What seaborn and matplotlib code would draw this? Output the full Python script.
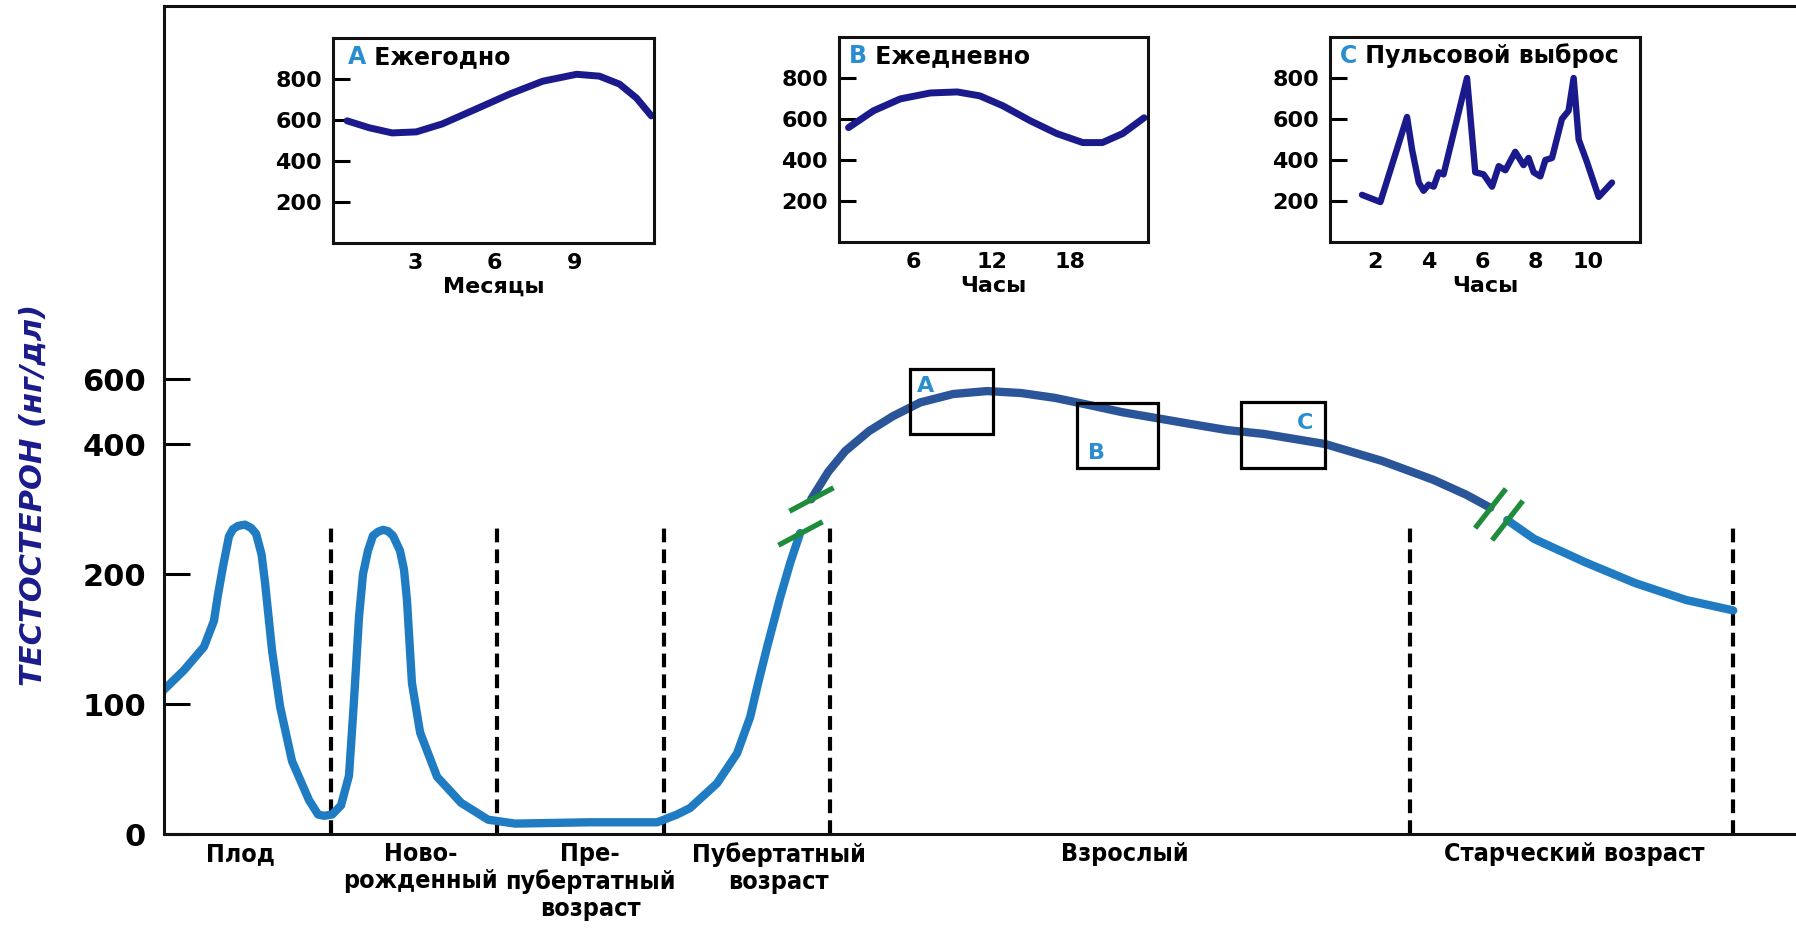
import numpy as np
import matplotlib
matplotlib.use('Agg')
import matplotlib.pyplot as plt
import seaborn as sns
from matplotlib.patches import Rectangle
from matplotlib import font_manager

# main curve: x in "stage widths", testosterone in ng/dl
early_x = [0.0, 0.12, 0.24, 0.30, 0.324, 0.354, 0.39, 0.414, 0.444, 0.486, 0.523, 0.553,
           0.586, 0.607, 0.649, 0.697, 0.769, 0.871, 0.925, 0.961, 1.01, 1.063, 1.111,
           1.141, 1.171, 1.195, 1.225, 1.255, 1.285, 1.315, 1.345, 1.375, 1.417, 1.441,
           1.459, 1.489, 1.538, 1.64, 1.784, 1.946, 2.108, 2.553, 2.961, 3.081, 3.159,
           3.321, 3.441, 3.52, 3.562, 3.622, 3.70, 3.76, 3.82]
early_v = [111, 126, 144, 164, 184, 211, 258, 269, 274, 276, 271, 262,
           230, 193, 141, 98, 56, 26, 15, 14, 15, 22, 45,
           103, 167, 200, 236, 259, 265, 268, 266, 259, 236, 207,
           180, 116, 78, 44, 24, 11, 8, 9, 9, 15, 20,
           39, 62, 90, 113, 144, 182, 217, 263]

adult_x = [3.886, 3.988, 4.09, 4.234, 4.378, 4.541, 4.739, 4.943, 5.147, 5.351, 5.556,
           5.754, 5.958, 6.162, 6.384, 6.607, 6.973, 7.315, 7.622, 7.82, 7.964]
adult_v = [315, 357, 389, 440, 486, 528, 554, 563, 557, 542, 520,
           498, 480, 462, 443, 431, 400, 374, 345, 322, 302]

old_x = [8.066, 8.228, 8.535, 8.835, 9.141, 9.423]
old_v = [283, 254, 218, 193, 180, 172]

stage_edges = [1.0, 2.0, 3.0, 4.0, 7.48, 9.42]
stage_names = ['Плод', 'Ново-\nрожденный', 'Пре-\nпубертатный\nвозраст',
               'Пубертатный\nвозраст', 'Взрослый', 'Старческий возраст']
stage_name_x = [0.456, 1.54, 2.56, 3.69, 5.77, 8.47]
main_ticks = [0, 100, 200, 400, 600]

# boxes on the adult curve
box_names = ['A', 'B', 'C']
box_left = [4.48, 5.48, 6.47]
box_right = [4.98, 5.97, 6.97]
box_low = [431, 363, 363]
box_high = [631, 526, 529]

# insets
year_month = [0.43, 1.27, 2.13, 3.04, 4.02, 5.3, 6.55, 7.8, 9.08, 9.94, 10.7, 11.34, 11.9]
year_v = [596, 562, 537, 542, 581, 654, 726, 789, 823, 814, 775, 707, 620]

day_hour = [1.03, 2.94, 5.0, 7.3, 9.37, 11.1, 12.88, 14.95, 17.0, 19.0, 20.5, 22.06, 23.7]
day_v = [558, 640, 698, 727, 732, 713, 664, 592, 529, 485, 485, 529, 606]

pulse_hour = [1.5, 2.19, 3.19, 3.38, 3.63, 3.81, 4.0, 4.19, 4.38, 4.56, 5.44, 5.75, 6.06,
              6.38, 6.63, 6.88, 7.25, 7.56, 7.75, 7.94, 8.19, 8.38, 8.63, 9.0, 9.25, 9.44,
              9.63, 9.94, 10.38, 10.88]
pulse_v = [230, 195, 610, 450, 290, 250, 280, 270, 340, 330, 800, 340, 330,
           270, 370, 350, 440, 375, 410, 340, 320, 400, 410, 600, 640, 800,
           500, 390, 220, 290]

sns.set_theme(style='white')
plt.rcParams['font.family'] = ['DejaVu Sans']
plt.rcParams['axes.linewidth'] = 2.2
plt.rcParams['text.color'] = 'black'
plt.rcParams['xtick.color'] = 'black'
plt.rcParams['ytick.color'] = 'black'
plt.rcParams['axes.labelcolor'] = 'black'

# narrow bold face for the stage names, if one is there
cond = [f for f in font_manager.fontManager.ttflist
        if f.name == 'DejaVu Sans' and 'ondensed' in str(f.stretch) + f.fname and f.weight in ('bold', 700)]
if cond:
    stage_font = dict(family='DejaVu Sans', fontstretch='condensed', fontsize=18)
else:
    stage_font = dict(family='Liberation Sans', fontsize=17.5)

light = '#1f7cc2'
dark = '#2b5599'
navy = '#1a1a8c'
letter_blue = '#2a8dd0'
green = '#1f8c3c'
line_kw = dict(estimator=None, solid_joinstyle='round', solid_capstyle='round')

fig = plt.figure(figsize=(17.96, 9.31), dpi=100)
ax = fig.add_axes([164 / 1796, 97 / 931, 1632 / 1796, 828 / 931])

# broken value axis: 0-100-200 evenly, then 400, then 600 squeezed
knots_v = [0, 100, 200, 400, 600, 2000]
knots_u = [0, 1, 2, 3, 3.5, 7.0]
ax.set_yscale('function', functions=(lambda v: np.interp(v, knots_v, knots_u),
                                     lambda u: np.interp(u, knots_u, knots_v)))
ax.set_ylim(0, 1748)
ax.set_xlim(0, 9.80)

ax.vlines(stage_edges, 0, 280, colors='black', linewidth=3, linestyles=(0, (3.3, 1.7)))

sns.lineplot(x=early_x, y=early_v, ax=ax, color=light, linewidth=6, **line_kw)
sns.lineplot(x=adult_x, y=adult_v, ax=ax, color=dark, linewidth=6, **line_kw)
sns.lineplot(x=old_x, y=old_v, ax=ax, color=light, linewidth=6, **line_kw)

# break marks at the gaps of the curve
ax.plot([early_x[-1], adult_x[0]], [early_v[-1], adult_v[0]], linestyle='none',
        marker=(2, 0, -62), markersize=36, markeredgewidth=3.8, markeredgecolor=green)
ax.plot([adult_x[-1], old_x[0]], [adult_v[-1], old_v[0]], linestyle='none',
        marker=(2, 0, -38), markersize=36, markeredgewidth=3.8, markeredgecolor=green)

for name, x0, x1, lo, hi in zip(box_names, box_left, box_right, box_low, box_high):
    ax.add_patch(Rectangle((x0, lo), x1 - x0, hi - lo, fill=False,
                           edgecolor='black', linewidth=2.3, zorder=4))
    if name == 'A':
        xy, off, ha, va = (x0, hi), (5, -5), 'left', 'top'
    elif name == 'B':
        xy, off, ha, va = (x0, lo), (8, 4), 'left', 'bottom'
    else:
        xy, off, ha, va = (x1, hi), (-8, -8), 'right', 'top'
    ax.annotate(name, xy=xy, xytext=off, textcoords='offset points', ha=ha, va=va,
                color=letter_blue, fontsize=16, fontweight='bold')

ax.set_yticks(main_ticks)
ax.set_yticklabels([str(t) for t in main_ticks], fontsize=22, fontweight='bold')
ax.minorticks_off()
ax.tick_params(axis='y', direction='in', length=19, width=2.2, pad=13, left=True)
ax.set_xticks(stage_name_x)
ax.set_xticklabels(stage_names, fontweight='bold', linespacing=1.15, **stage_font)
ax.tick_params(axis='x', length=0, pad=6)
ax.spines['right'].set_visible(False)
for s in ['left', 'bottom', 'top']:
    ax.spines[s].set_color('#111111')

ax.set_ylabel('ТЕСТОСТЕРОН (нг/дл)', fontsize=22, fontweight='bold', style='italic',
              color=navy)
ax.yaxis.set_label_coords(-0.071, 0.41)


def inset(rect, xs, ys, xlim, xticks, xlabel, letter, title, tx, lw):
    a = fig.add_axes(rect)
    sns.lineplot(x=xs, y=ys, ax=a, color=navy, linewidth=lw, **line_kw)
    a.set_xlim(*xlim)
    a.set_ylim(0, 1000)
    a.set_yticks([200, 400, 600, 800])
    a.set_yticklabels(['200', '400', '600', '800'], fontsize=16, fontweight='bold')
    a.set_xticks(xticks)
    a.set_xticklabels([str(t) for t in xticks], fontsize=16, fontweight='bold')
    a.tick_params(axis='y', direction='in', length=12, width=2.2, pad=8, left=True)
    a.tick_params(axis='x', length=0, pad=7)
    a.set_xlabel(xlabel, fontsize=16, fontweight='bold', labelpad=3)
    for s in a.spines.values():
        s.set_linewidth(2.2)
        s.set_color('#111111')
    t = a.text(tx, 0.875, letter, transform=a.transAxes, color=letter_blue,
               fontsize=17, fontweight='bold', va='baseline')
    a.annotate(' ' + title, xy=(1, 0), xycoords=t, va='bottom', ha='left',
               fontsize=17, fontweight='bold', color='black')
    return a


inset([333 / 1796, 688 / 931, 321 / 1796, 205 / 931], year_month, year_v, (-0.1, 12),
      [3, 6, 9], 'Месяцы', 'A', 'Ежегодно', 0.047, 5.0)
inset([839 / 1796, 689 / 931, 309 / 1796, 205 / 931], day_hour, day_v, (0.3, 24),
      [6, 12, 18], 'Часы', 'B', 'Ежедневно', 0.032, 5.0)
inset([1330 / 1796, 689 / 931, 310 / 1796, 205 / 931], pulse_hour, pulse_v, (0.3, 11.93),
      [2, 4, 6, 8, 10], 'Часы', 'C', 'Пульсовой выброс', 0.032, 4.6)

fig.savefig('out.png', dpi=100)
